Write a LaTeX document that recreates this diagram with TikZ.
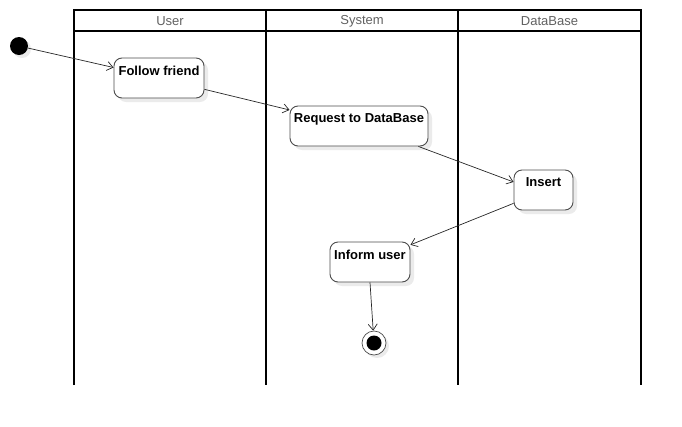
\documentclass[tikz,border=0pt]{standalone}
\usepackage{fontspec}
\setmainfont{Liberation Sans}
\usetikzlibrary{arrows.meta,shadows}
\begin{document}
\begin{tikzpicture}[x=1pt,y=-1pt,
  lane/.style={line width=2pt,black},
  hdr/.style={font=\fontsize{13}{15}\selectfont, text=black!62},
  act/.style={draw=black!70, line width=0.9pt, rounded corners=8pt, fill=white,
    drop shadow={shadow xshift=4pt, shadow yshift=-4pt, fill=black!8, opacity=1},
    inner sep=0pt},
  actlbl/.style={font=\bfseries\fontsize{13}{15}\selectfont, anchor=north, inner sep=0pt, yshift=-8pt},
  flow/.style={draw=black!85, line width=0.7pt, -{Straight Barb[length=6pt,width=9pt]}},
  startst/.style={circle, fill=black, minimum size=18pt, inner sep=0pt,
    drop shadow={shadow xshift=3pt, shadow yshift=-3pt, fill=black!8, opacity=1}},
  endst/.style={circle, draw=black!70, line width=0.7pt, fill=white, minimum size=24pt, inner sep=0pt,
    drop shadow={shadow xshift=3pt, shadow yshift=-3pt, fill=black!8, opacity=1}},
  endin/.style={circle, fill=black, minimum size=15pt, inner sep=0pt}
]
\useasboundingbox (0,0) rectangle (682,426);
% swimlanes
\draw[lane] (74,385) -- (74,10) -- (641,10) -- (641,385);
\draw[lane] (74,31) -- (641,31);
\draw[lane] (266,10) -- (266,385);
\draw[lane] (458,10) -- (458,385);
\node[hdr] (hU) at (170,21.5) {User};
\node[hdr] (hS) at (362,21.5) {System};
\node[hdr] (hD) at (549.5,21.5) {DataBase};
% states
\node[startst] (st) at (19,46) {};
\node[act, minimum width=90pt, minimum height=40pt,
  label={[actlbl]north:Follow friend}] (ff) at (159,78) {};
\node[act, minimum width=138pt, minimum height=40pt,
  label={[actlbl]north:Request to DataBase}] (req) at (359,126) {};
\node[act, minimum width=59pt, minimum height=40pt,
  label={[actlbl]north:Insert}] (ins) at (543.5,190) {};
\node[act, minimum width=80pt, minimum height=40pt,
  label={[actlbl]north:Inform user}] (inf) at (370,262) {};
\node[endst] (en) at (374,343) {};
\node[endin] (eni) at (en) {};
% flows
\draw[flow] (st) -- (ff.167);
\draw[flow] (ff.-14) -- (req.167);
\draw[flow] (req.-19) -- (ins.165);
\draw[flow] (ins.204) -- (inf.23);
\draw[flow] (inf.south) -- (en);
\end{tikzpicture}
\end{document}
